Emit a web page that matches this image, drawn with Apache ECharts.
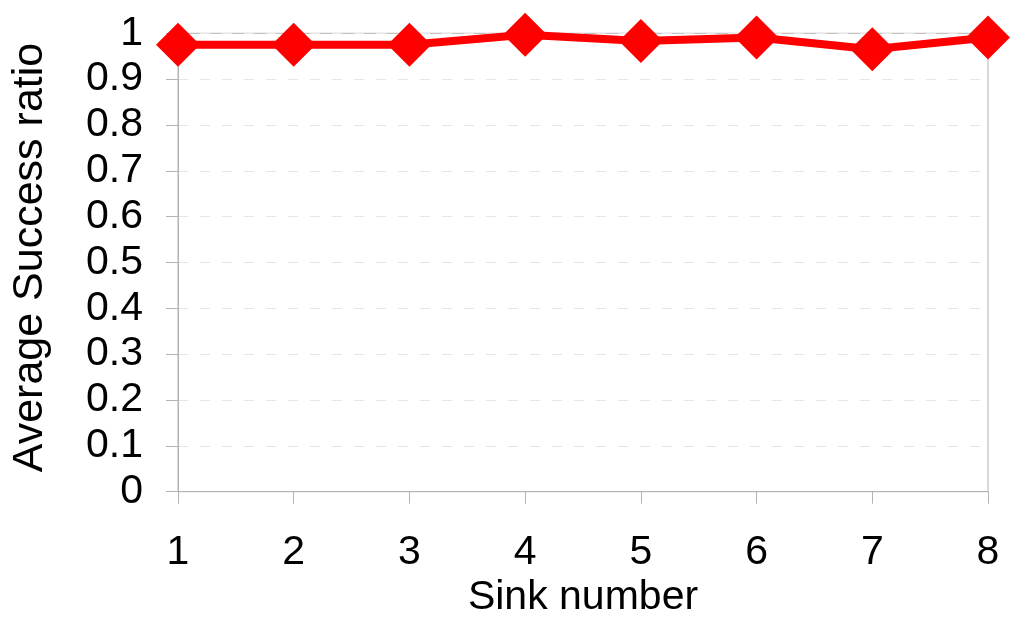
<!DOCTYPE html>
<html>
<head>
<meta charset="utf-8">
<script src="https://cdn.jsdelivr.net/npm/echarts@6/dist/echarts.min.js"></script>
<style>
html,body{margin:0;padding:0;background:#fff;}
#chart{width:1024px;height:621px;}
</style>
</head>
<body>
<div id="chart"></div>
<script>
var categories = ['1', '2', '3', '4', '5', '6', '7', '8'];
var successRatio = [0.975, 0.975, 0.975, 0.997, 0.983, 0.991, 0.965, 0.991];
var yTickLabels = ['0', '0.1', '0.2', '0.3', '0.4', '0.5', '0.6', '0.7', '0.8', '0.9', '1'];
var xAxisTitle = 'Sink number';
var yAxisTitle = 'Average Success ratio';

var font = '"Liberation Sans", Arial, sans-serif';
var chart = echarts.init(document.getElementById('chart'));
chart.setOption({
  animation: false,
  backgroundColor: '#ffffff',
  grid: {
    left: 178, right: 36, top: 33.3, bottom: 129.3,
    show: true, borderColor: '#b3b3b3', borderWidth: 1,
    containLabel: false,
    outerBoundsMode: 'none'
  },
  xAxis: {
    type: 'category',
    data: categories,
    boundaryGap: false,
    name: xAxisTitle,
    nameLocation: 'middle',
    nameGap: 83,
    nameTextStyle: { fontFamily: font, fontSize: 41, color: '#000' },
    axisLine: { lineStyle: { color: '#b3b3b3', width: 1 } },
    axisTick: { show: true, length: 12, alignWithLabel: true, lineStyle: { color: '#b3b3b3' } },
    axisLabel: { fontFamily: font, fontSize: 41, color: '#000', margin: 40 },
    splitLine: { show: false }
  },
  yAxis: {
    type: 'value',
    min: 0, max: 1, interval: 0.1,
    name: yAxisTitle,
    nameLocation: 'middle',
    nameGap: 126,
    nameTextStyle: { fontFamily: font, fontSize: 43, color: '#000', padding: [0, 0, 0, 10] },
    axisLine: { show: true, lineStyle: { color: '#b3b3b3', width: 1 } },
    axisTick: { show: true, length: 12, lineStyle: { color: '#b3b3b3' } },
    axisLabel: {
      fontFamily: font, fontSize: 41, color: '#000', margin: 35,
      formatter: function (v) { return yTickLabels[Math.round(v * 10)]; }
    },
    splitLine: { show: true, lineStyle: { color: '#e6e6e6', type: [10, 12], width: 1 } }
  },
  series: [{
    type: 'line',
    data: successRatio,
    symbol: 'diamond',
    symbolSize: [44, 44],
    itemStyle: { color: '#ff0000' },
    lineStyle: { color: '#ff0000', width: 8 },
    z: 5
  }]
});
</script>
</body>
</html>
